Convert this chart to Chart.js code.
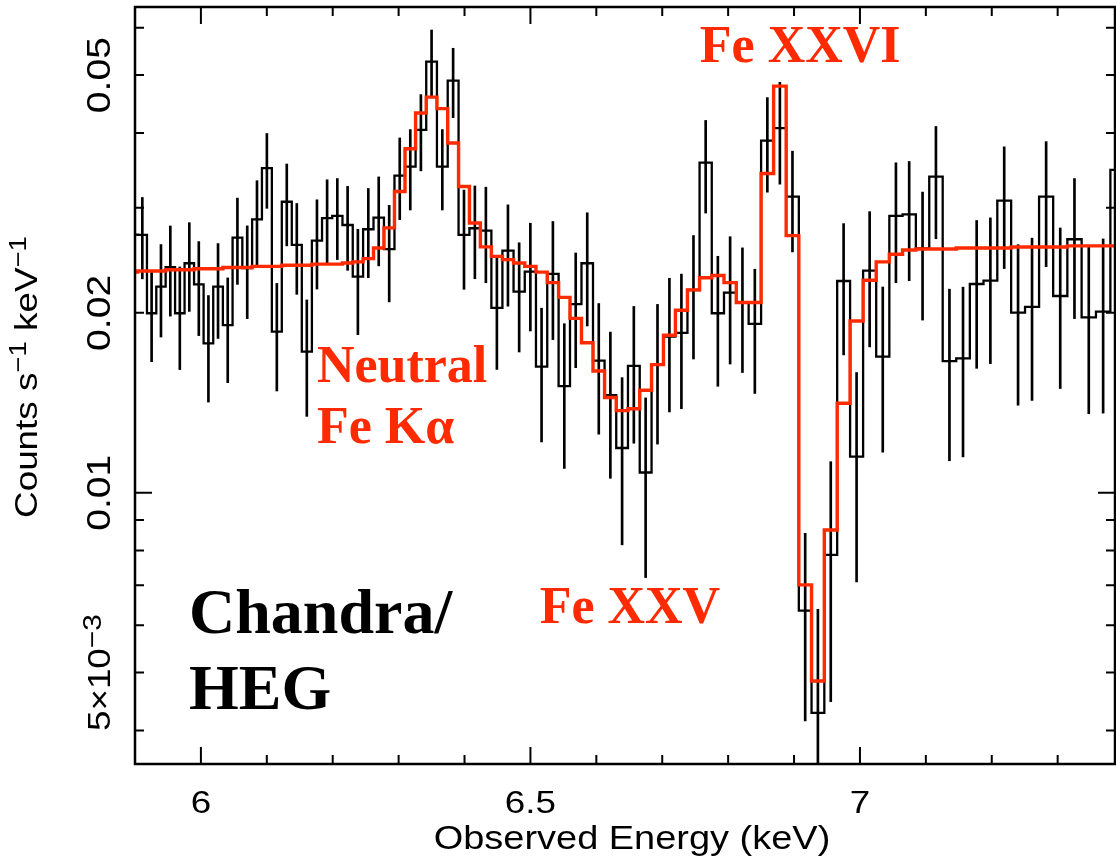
<!DOCTYPE html>
<html lang="en">
<head>
<meta charset="UTF-8">
<title>Chandra HEG Fe K spectrum</title>
<script src="https://cdn.jsdelivr.net/npm/chart.js@4.4.0/dist/chart.umd.min.js"></script>
<style>
  html, body { margin: 0; padding: 0; background: #fff; }
  #wrap { width: 1116px; height: 862px; }
</style>
</head>
<body>
<div id="wrap"><canvas id="spec" width="1116" height="862"></canvas></div>

<script>
// bin centres in keV (HEG bins are 5 mA wide, so they widen with energy)
var energy = [
  5.8970, 5.9111, 5.9252, 5.9394, 5.9536, 5.9680, 5.9824, 5.9968, 6.0114, 6.0260,
  6.0407, 6.0554, 6.0703, 6.0851, 6.1001, 6.1152, 6.1303, 6.1455, 6.1607, 6.1761,
  6.1915, 6.2070, 6.2226, 6.2382, 6.2540, 6.2698, 6.2857, 6.3017, 6.3177, 6.3338,
  6.3500, 6.3663, 6.3827, 6.3992, 6.4157, 6.4324, 6.4491, 6.4659, 6.4829, 6.4999,
  6.5169, 6.5341, 6.5514, 6.5687, 6.5862, 6.6037, 6.6213, 6.6391, 6.6569, 6.6748,
  6.6928, 6.7109, 6.7291, 6.7474, 6.7659, 6.7844, 6.8030, 6.8217, 6.8405, 6.8595,
  6.8785, 6.8976, 6.9169, 6.9362, 6.9557, 6.9752, 6.9949, 7.0147, 7.0346, 7.0546,
  7.0747, 7.0950, 7.1153, 7.1358, 7.1564, 7.1771, 7.1979, 7.2189, 7.2399, 7.2611,
  7.2825, 7.3039, 7.3255, 7.3472, 7.3690, 7.3910
];

// observed counts s^-1 keV^-1
var counts = [
  0.02703, 0.02700, 0.01997, 0.02212, 0.02385, 0.01997, 0.02421, 0.02232, 0.01778, 0.02212,
  0.01908, 0.02672, 0.02376, 0.02868, 0.03492, 0.01860, 0.03069, 0.02598, 0.01722, 0.02642,
  0.02880, 0.02906, 0.02806, 0.02299, 0.02760, 0.02887, 0.02556, 0.03394, 0.03513, 0.04047,
  0.05268, 0.03513, 0.04894, 0.02700, 0.02771, 0.02746, 0.02038, 0.02542, 0.02170, 0.02345,
  0.01626, 0.02324, 0.01508, 0.02069, 0.02421, 0.01663, 0.01457, 0.01188, 0.01630, 0.01081,
  0.01636, 0.01825, 0.01852, 0.02184, 0.03568, 0.01997, 0.02162, 0.02079, 0.01916, 0.03884,
  0.04074, 0.03129, 0.00635, 0.00428, 0.00787, 0.02261, 0.01149, 0.02354, 0.01689, 0.02906,
  0.02924, 0.02565, 0.03381, 0.01661, 0.01678, 0.02235, 0.02264, 0.03082, 0.02001, 0.02047,
  0.03129, 0.02134, 0.02656, 0.01966, 0.02009, 0.03469
];

// 1 sigma errors on the counts
var errors = [
  0.0042, 0.0042, 0.0034, 0.0039, 0.0041, 0.0039, 0.0041, 0.0040, 0.0036, 0.0040,
  0.0038, 0.0044, 0.0042, 0.0046, 0.0050, 0.0038, 0.0048, 0.0045, 0.0038, 0.0045,
  0.0046, 0.0045, 0.0045, 0.0046, 0.0047, 0.0049, 0.0047, 0.0053, 0.0054, 0.0059,
  0.0068, 0.0054, 0.0065, 0.0051, 0.0049, 0.0050, 0.0043, 0.0049, 0.0045, 0.0048,
  0.0041, 0.0052, 0.0041, 0.0045, 0.0052, 0.0041, 0.0040, 0.0037, 0.0042, 0.0036,
  0.0043, 0.0046, 0.0047, 0.0051, 0.0063, 0.0049, 0.0052, 0.0049, 0.0045, 0.0070,
  0.0079, 0.0060, 0.0022, 0.0021, 0.0034, 0.0056, 0.0044, 0.0060, 0.0052, 0.0066,
  0.0066, 0.0062, 0.0072, 0.0053, 0.0053, 0.0062, 0.0062, 0.0071, 0.0060, 0.0062,
  0.0074, 0.0064, 0.0070, 0.0061, 0.0065, 0.0073
];

// best-fit model, same bins
var model = [
  0.02340, 0.02350, 0.02350, 0.02350, 0.02361, 0.02361, 0.02361, 0.02371, 0.02371, 0.02371,
  0.02382, 0.02382, 0.02382, 0.02392, 0.02392, 0.02392, 0.02403, 0.02403, 0.02403, 0.02413,
  0.02413, 0.02413, 0.02423, 0.02434, 0.02465, 0.02568, 0.02775, 0.03192, 0.03765, 0.04320,
  0.04592, 0.04393, 0.03849, 0.03254, 0.02827, 0.02579, 0.02486, 0.02455, 0.02423, 0.02392,
  0.02340, 0.02247, 0.02123, 0.01958, 0.01782, 0.01598, 0.01443, 0.01372, 0.01382, 0.01484,
  0.01638, 0.01834, 0.02020, 0.02185, 0.02289, 0.02309, 0.02247, 0.02081, 0.02081, 0.03421,
  0.04791, 0.02693, 0.00701, 0.00484, 0.00866, 0.01412, 0.01938, 0.02268, 0.02434, 0.02506,
  0.02548, 0.02558, 0.02558, 0.02558, 0.02568, 0.02568, 0.02568, 0.02568, 0.02578, 0.02578,
  0.02578, 0.02578, 0.02589, 0.02589, 0.02589, 0.02589
];

// axis ticks
var xMajor = [6, 6.5, 7];
var xMinor = [6.1, 6.2, 6.3, 6.4, 6.6, 6.7, 6.8, 6.9, 7.1, 7.2, 7.3];
var xTickText = ['6', '6.5', '7'];
var yMajor = [0.01];
var yMinor = [0.004, 0.005, 0.006, 0.007, 0.008, 0.009, 0.02, 0.03, 0.04, 0.05, 0.06];
var yTickValues = [0.05, 0.02, 0.01, 0.005];
var yTickText = ['0.05', '0.02', '0.01', '5\u00d710'];
var yTickExp = ['', '', '', '\u22123'];

// line identifications, anchored at (keV, counts) = left end of baseline
var noteText = ['Fe XXVI', 'Neutral', 'Fe K\u03b1', 'Fe XXV', 'Chandra/', 'HEG'];
var noteE = [6.757, 6.176, 6.176, 6.514, 5.982, 5.982];
var noteC = [0.05252, 0.01533, 0.01210, 0.00605, 0.00582, 0.00435];
var noteIsLine = [true, true, true, true, false, false];

var RED = '#ff2a00';
var SANS = '"Liberation Sans", Arial, sans-serif';
var SX = 1.15; // the axis lettering is a bit wider than plain Helvetica

function pts(arr) {
  return energy.map(function (e, i) { return { x: e, y: arr[i] }; });
}

var errBars = energy.map(function (e, i) {
  return { x: e, y: [counts[i] - errors[i], counts[i] + errors[i]] };
});

// draws a row of [text, size, raise] pieces centred on (x, y)
function richText(c, parts, x, y, rot) {
  c.save();
  c.translate(x, y);
  if (rot) c.rotate(rot);
  c.scale(SX, 1);
  c.textAlign = 'left';
  c.textBaseline = 'alphabetic';
  var widths = [], total = 0;
  parts.forEach(function (p) {
    c.font = p[1] + 'px ' + SANS;
    var w = c.measureText(p[0]).width;
    widths.push(w);
    total += w;
  });
  var pos = -total / 2;
  parts.forEach(function (p, i) {
    c.font = p[1] + 'px ' + SANS;
    c.fillText(p[0], pos, -p[2]);
    pos += widths[i];
  });
  c.restore();
}

var framePlugin = {
  id: 'frame',
  afterDatasetsDraw: function (chart) {
    var c = chart.ctx, a = chart.chartArea;
    var xs = chart.scales.x, ys = chart.scales.y;
    c.save();
    c.strokeStyle = '#000';
    c.lineWidth = 2;
    c.beginPath();
    function xt(v, len) {
      var p = xs.getPixelForValue(v);
      c.moveTo(p, a.bottom); c.lineTo(p, a.bottom - len);
      c.moveTo(p, a.top); c.lineTo(p, a.top + len);
    }
    function yt(v, len) {
      var p = ys.getPixelForValue(v);
      c.moveTo(a.left, p); c.lineTo(a.left + len, p);
      c.moveTo(a.right, p); c.lineTo(a.right - len, p);
    }
    xMajor.forEach(function (v) { xt(v, 17); });
    xMinor.forEach(function (v) { xt(v, 9); });
    yMajor.forEach(function (v) { yt(v, 17); });
    yMinor.forEach(function (v) { yt(v, 9); });
    c.stroke();
    c.lineWidth = 2.5;
    c.strokeRect(a.left, a.top, a.right - a.left, a.bottom - a.top);
    c.restore();
  },
  afterDraw: function (chart) {
    var c = chart.ctx;
    var xs = chart.scales.x, ys = chart.scales.y;
    c.save();
    c.fillStyle = '#000';

    // axis numbers
    xMajor.forEach(function (v, i) {
      richText(c, [[xTickText[i], 32, 0]], xs.getPixelForValue(v), 813, 0);
    });
    yTickValues.forEach(function (v, i) {
      var parts = yTickExp[i] ? [[yTickText[i], 32, 0], [yTickExp[i], 26, 9]] : [[yTickText[i], 34, 0]];
      richText(c, parts, 110, ys.getPixelForValue(v), -Math.PI / 2);
    });

    // axis titles
    richText(c, [['Observed Energy (keV)', 33, 0]], 632, 849, 0);
    richText(c, [['Counts s', 32, 0], ['\u22121', 24, 11], [' keV', 32, 0], ['\u22121', 24, 11]],
      37, 377, -Math.PI / 2);

    // annotations
    noteText.forEach(function (t, i) {
      c.fillStyle = noteIsLine[i] ? RED : '#000';
      c.font = 'bold ' + (noteIsLine[i] ? 52 : 64) + 'px "Liberation Serif", "Times New Roman", serif';
      c.textAlign = 'left';
      c.textBaseline = 'alphabetic';
      c.fillText(t, xs.getPixelForValue(noteE[i]), ys.getPixelForValue(noteC[i]));
    });
    c.restore();
  }
};

new Chart(document.getElementById('spec').getContext('2d'), {
  type: 'line',
  data: {
    datasets: [
      {
        label: 'model',
        data: pts(model),
        stepped: 'middle',
        borderColor: RED,
        borderWidth: 3.4,
        pointRadius: 0,
        fill: false,
        clip: 0,
        order: 0
      },
      {
        label: 'data',
        data: pts(counts),
        stepped: 'middle',
        borderColor: '#000',
        borderWidth: 2.3,
        pointRadius: 0,
        fill: false,
        clip: 0,
        order: 1
      },
      {
        type: 'bar',
        label: 'errors',
        data: errBars,
        backgroundColor: '#000',
        borderWidth: 0,
        barThickness: 2,
        clip: 0,
        order: 2
      }
    ]
  },
  options: {
    responsive: false,
    animation: false,
    layout: { padding: { left: 0, right: 1, top: 7, bottom: 0 } },
    plugins: { legend: { display: false }, tooltip: { enabled: false } },
    scales: {
      x: {
        type: 'linear', min: 5.9, max: 7.387, offset: false,
        grid: { display: false }, border: { display: false },
        ticks: { display: false },
        afterFit: function (s) { s.height = 98; }
      },
      y: {
        type: 'logarithmic', min: 0.003515, max: 0.0650,
        grid: { display: false }, border: { display: false },
        ticks: { display: false },
        afterFit: function (s) { s.width = 135; }
      }
    }
  },
  plugins: [framePlugin]
});
</script>
</body>
</html>
